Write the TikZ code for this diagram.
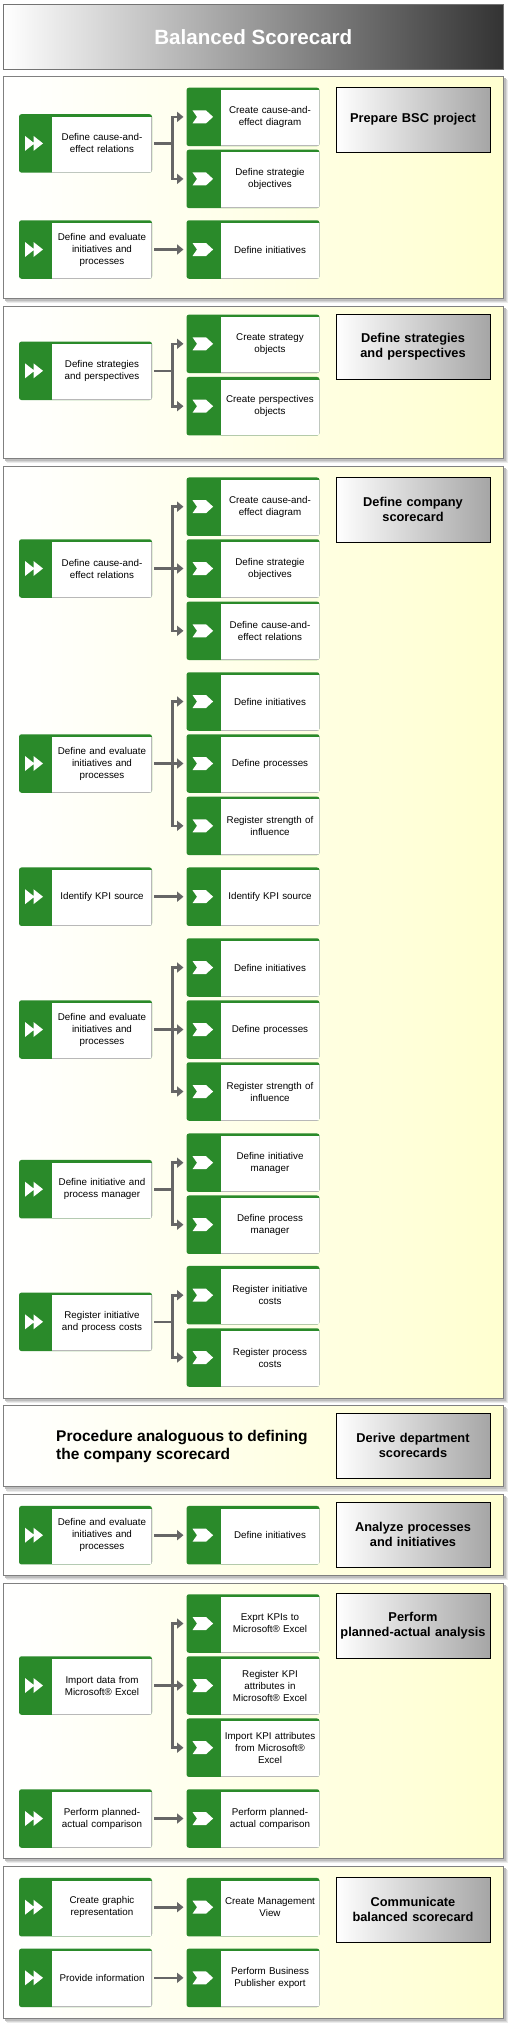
\documentclass[tikz,border=0pt]{standalone}
\usepackage{fontspec}
\setmainfont{Liberation Sans}
\usetikzlibrary{arrows.meta}
\definecolor{bscgreen}{RGB}{42,138,42}
\definecolor{conngray}{RGB}{102,102,102}
\definecolor{secyellow}{RGB}{255,255,208}
\definecolor{secborder}{RGB}{128,128,128}
\newcommand\procL[3]{\node[lproc] (#1) at (85.5,#2) {}; \node[ptext] (#1t) at ([xshift=16.5pt]#1.center) {#3};}
\newcommand\procR[3]{\node[rproc] (#1) at (253,#2) {}; \node[ptext] (#1t) at ([xshift=17pt]#1.center) {#3};}
\newcommand\secbox[2]{%
  \fill[black!8] (7.3,#1+4) rectangle (508.3,#2+5);
  \fill[black!16] (6.3,#1+3) rectangle (507.3,#2+4);
  \fill[black!26] (5.3,#1+2) rectangle (505.8,#2+2.5);
  \draw[secborder, line width=0.8pt, left color=white, right color=secyellow] (3.3,#1) rectangle (503.3,#2);}
\newcommand\single[2]{\draw[conn] (#1.east) -- (#2.west);}
\newcommand\branch[2]{\draw[conn] (#1.east) -- ([xshift=20.7pt]#1.east) |- (#2.west);}
\newcommand\ppw[2]{([xshift=#1pt,yshift=#2pt]path picture bounding box.west)}
\begin{document}
\begin{tikzpicture}[x=1pt,y=-1pt,
  procbase/.style={fill=bscgreen, rounded corners=2.5pt, minimum width=133pt, minimum height=58.5pt, inner sep=0pt, outer sep=0pt},
  lproc/.style={procbase, path picture={
     \fill[white, sharp corners] ([xshift=33pt]path picture bounding box.south west) rectangle ([yshift=-2.7pt]path picture bounding box.north east);
     \draw[black!28, line width=0.9pt, sharp corners] ([xshift=33pt,yshift=0.45pt]path picture bounding box.south west) -- ([xshift=-0.45pt,yshift=0.45pt]path picture bounding box.south east) -- ([xshift=-0.45pt,yshift=-2.7pt]path picture bounding box.north east);
     \fill[white, sharp corners] \ppw{6}{7.5} -- \ppw{15.5}{0} -- \ppw{6}{-7.5} -- cycle \ppw{14.5}{7.5} -- \ppw{24}{0} -- \ppw{14.5}{-7.5} -- cycle;
  }},
  rproc/.style={procbase, path picture={
     \fill[white, sharp corners] ([xshift=34pt]path picture bounding box.south west) rectangle ([yshift=-2.7pt]path picture bounding box.north east);
     \draw[black!28, line width=0.9pt, sharp corners] ([xshift=34pt,yshift=0.45pt]path picture bounding box.south west) -- ([xshift=-0.45pt,yshift=0.45pt]path picture bounding box.south east) -- ([xshift=-0.45pt,yshift=-2.7pt]path picture bounding box.north east);
     \fill[white, sharp corners] \ppw{6}{6.5} -- \ppw{19.5}{6.5} -- \ppw{26.6}{0} -- \ppw{19.5}{-6.5} -- \ppw{6}{-6.5} -- \ppw{10.5}{0} -- cycle;
  }},
  ptext/.style={text width=98pt, align=center, inner sep=0pt, font=\fontsize{9.8}{12}\selectfont},
  lbl/.style={draw=black, line width=0.9pt, left color=white, right color=black!35, minimum width=154pt, minimum height=65pt, text width=152pt, align=center, inner sep=0pt, font=\bfseries\fontsize{12.8}{15}\selectfont},
  conn/.style={conngray, line width=2.6pt, shorten <=2.3pt, shorten >=3pt, -{Triangle[length=6.5pt,width=10pt]}},
]
\useasboundingbox (0,0) rectangle (510,2024);
\fill[white] (0,0) rectangle (510,2024);
% Title
\node[draw=black!55, line width=0.8pt, left color=white, right color=black!80, minimum width=500pt, minimum height=65pt, inner sep=0pt, text=white, font=\bfseries\fontsize{20.6}{24}\selectfont] (title) at (253.3,36.8) {Balanced Scorecard};

% Section 1
\secbox{76.3}{298.3}
\procL{a1}{143.4}{Define cause-and-\\effect relations}
\procR{a1r1}{116.9}{Create cause-and-\\effect diagram}
\procR{a1r2}{178.9}{Define strategie\\objectives}
\procL{a2}{249.5}{Define and evaluate\\initiatives and\\processes}
\procR{a2r1}{249.5}{Define initiatives}
\branch{a1}{a1r1}\branch{a1}{a1r2}
\single{a2}{a2r1}
\node[lbl] (lab1) at (413,119.5) {Prepare BSC project};

% Section 2
\secbox{306}{458.3}
\procL{b1}{370.8}{Define strategies\\and perspectives}
\procR{b1r1}{343.8}{Create strategy\\objects}
\procR{b1r2}{406.2}{Create perspectives\\objects}
\branch{b1}{b1r1}\branch{b1}{b1r2}
\node[lbl] (lab2) at (413,346.8) {Define strategies\\and perspectives};

% Section 3
\secbox{466}{1398.3}
\procL{c1}{568.5}{Define cause-and-\\effect relations}
\procR{c1r1}{506.7}{Create cause-and-\\effect diagram}
\procR{c1r2}{568.5}{Define strategie\\objectives}
\procR{c1r3}{630.8}{Define cause-and-\\effect relations}
\branch{c1}{c1r1}\branch{c1}{c1r2}\branch{c1}{c1r3}
\procL{c2}{763.5}{Define and evaluate\\initiatives and\\processes}
\procR{c2r1}{701.5}{Define initiatives}
\procR{c2r2}{763.5}{Define processes}
\procR{c2r3}{825.8}{Register strength of\\influence}
\branch{c2}{c2r1}\branch{c2}{c2r2}\branch{c2}{c2r3}
\procL{c3}{896.7}{Identify KPI source}
\procR{c3r1}{896.7}{Identify KPI source}
\single{c3}{c3r1}
\procL{c4}{1029.5}{Define and evaluate\\initiatives and\\processes}
\procR{c4r1}{967.5}{Define initiatives}
\procR{c4r2}{1029.5}{Define processes}
\procR{c4r3}{1091.5}{Register strength of\\influence}
\branch{c4}{c4r1}\branch{c4}{c4r2}\branch{c4}{c4r3}
\procL{c5}{1189.2}{Define initiative and\\process manager}
\procR{c5r1}{1162.7}{Define initiative\\manager}
\procR{c5r2}{1224.7}{Define process\\manager}
\branch{c5}{c5r1}\branch{c5}{c5r2}
\procL{c6}{1321.8}{Register initiative\\and process costs}
\procR{c6r1}{1295.2}{Register initiative\\costs}
\procR{c6r2}{1357.5}{Register process\\costs}
\branch{c6}{c6r1}\branch{c6}{c6r2}
\node[lbl] (lab3) at (413,509.8) {Define company\\scorecard};

% Section 4
\secbox{1405.3}{1486.7}
\node[anchor=west, align=left, inner sep=0pt, font=\bfseries\fontsize{15.5}{18}\selectfont] (d1) at (56,1446) {Procedure analoguous to defining\\the company scorecard};
\node[lbl] (lab4) at (413,1445.8) {Derive department\\scorecards};

% Section 5
\secbox{1494.3}{1575}
\procL{e1}{1535.2}{Define and evaluate\\initiatives and\\processes}
\procR{e1r1}{1535.2}{Define initiatives}
\single{e1}{e1r1}
\node[lbl] (lab5) at (413,1534.7) {Analyze processes\\and initiatives};

% Section 6
\secbox{1583.3}{1858.3}
\procL{f1}{1685.5}{Import data from\\Microsoft® Excel}
\procR{f1r1}{1623.5}{Exprt KPIs to\\Microsoft® Excel}
\procR{f1r2}{1685.5}{Register KPI\\attributes in\\Microsoft® Excel}
\procR{f1r3}{1747.7}{Import KPI attributes\\from Microsoft®\\Excel}
\branch{f1}{f1r1}\branch{f1}{f1r2}\branch{f1}{f1r3}
\procL{f2}{1818.5}{Perform planned-\\actual comparison}
\procR{f2r1}{1818.5}{Perform planned-\\actual comparison}
\single{f2}{f2r1}
\node[lbl] (lab6) at (413,1625.8) {Perform\\planned-actual analysis};

% Section 7
\secbox{1866}{2018.3}
\procL{g1}{1907.2}{Create graphic\\representation}
\procR{g1r1}{1907.2}{Create Management\\View}
\single{g1}{g1r1}
\procL{g2}{1977.8}{Provide information}
\procR{g2r1}{1977.8}{Perform Business\\Publisher export}
\single{g2}{g2r1}
\node[lbl] (lab7) at (413,1909.8) {Communicate\\balanced scorecard};
\end{tikzpicture}
\end{document}
